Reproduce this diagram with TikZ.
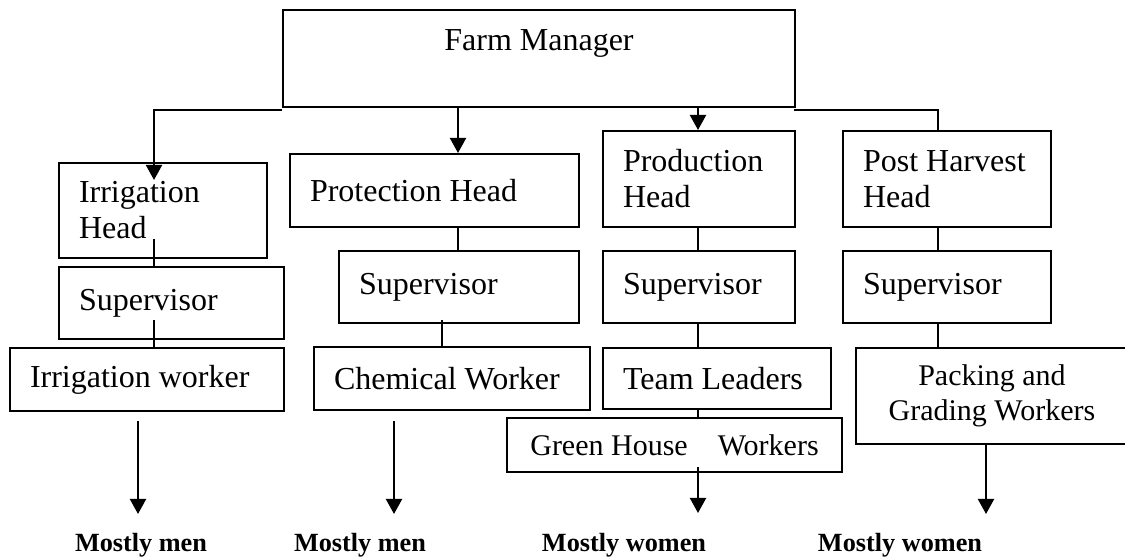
\documentclass[tikz,border=0pt]{standalone}
\usepackage{fontspec}
\setmainfont{Liberation Serif}
\usetikzlibrary{arrows.meta}
\tikzset{
    chart-box/.style = {draw, line width=0.8pt, rectangle, anchor=north west, inner xsep=8pt, inner ysep=0pt, align=left, font=\fontsize{12.8}{14.4}\selectfont, execute at begin node={\spaceskip=0.25em\relax}},
    chart-small/.style = {font=\fontsize{12}{14}\selectfont},
    chart-note/.style = {font=\fontsize{10.5}{12.6}\selectfont\bfseries, inner sep=0pt},
    chart-line/.style = {line width=0.8pt},
    chart-arrow/.style = {line width=0.8pt, -{Triangle[length=6pt, width=6.4pt]}},
}
\begin{document}
\begin{tikzpicture}[x=0.4pt, y=-0.4pt]
\clip (0,0) rectangle (1125,557);
% columns of the vertical lines
\coordinate (c1) at (154,0);
\coordinate (c2) at (458,0);
\coordinate (c2b) at (442,0);
\coordinate (c3) at (698,0);
\coordinate (c4) at (938,0);

\node [chart-box, text width=188.8pt, minimum height=38.8pt, align=center, text depth=15pt] (fm) at (282,9) {Farm Manager};

% heads
\node [chart-box, text width=67.2pt, minimum height=38pt] (irrhead) at (58,162) {Irrigation\\Head};
\node [chart-box, text width=99.6pt, minimum height=29.2pt] (prothead) at (289,153) {Protection Head};
\node [chart-box, text width=60.8pt, minimum height=38.4pt] (prodhead) at (602,130) {Production\\Head};
\node [chart-box, text width=67.2pt, minimum height=38.4pt] (posthead) at (842,130) {Post Harvest\\Head};

% supervisors
\node [chart-box, text width=74pt, minimum height=28.8pt] (sup1) at (58,266) {Supervisor};
\node [chart-box, text width=80pt, minimum height=28.8pt] (sup2) at (338,250) {Supervisor};
\node [chart-box, text width=60.8pt, minimum height=28.8pt] (sup3) at (602,250) {Supervisor};
\node [chart-box, text width=67.2pt, minimum height=28.8pt] (sup4) at (842,250) {Supervisor};

% workers
\node [chart-box, text width=93.6pt, minimum height=25.2pt] (irrworker) at (9,347) {Irrigation worker};
\node [chart-box, text width=94.4pt, minimum height=25.2pt] (chemworker) at (313,346) {Chemical Worker};
\node [chart-box, text width=75pt, minimum height=24.4pt] (teamlead) at (602,347) {Team Leaders};
\node [chart-box, chart-small, minimum width=134pt, minimum height=21.6pt] (greenhouse) at (506,417) {Green House~~~~Workers};
\node [chart-box, chart-small, text width=92.8pt, minimum height=38.4pt, align=center] (packing) at (855,347) {Packing and\\Grading Workers};

% labels
\node [chart-note] (men1) at (141,545) {Mostly men};
\node [chart-note] (men2) at (360,545) {Mostly men};
\node [chart-note] (women1) at (624,545) {Mostly women};
\node [chart-note] (women2) at (900,545) {Mostly women};

% connectors
\coordinate (fm-left) at (282,110);
\coordinate (fm-right) at (794,110);
\coordinate (irr-tip) at (154,180);
\draw [chart-arrow] (fm-left) -| (irr-tip);
\draw [chart-line] (fm-right) -| (posthead.north -| c4);
\draw [chart-arrow] (fm.south -| c2) -- (prothead.north -| c2);
\draw [chart-arrow] (fm.south -| c3) -- (prodhead.north -| c3);

\draw [chart-line] (irrhead.south -| c1) ++(0,-20) -- (sup1.north -| c1);
\draw [chart-line] (sup1.south -| c1) ++(0,-20) -- (irrworker.north -| c1);
\draw [chart-line] (prothead.south -| c2) -- (sup2.north -| c2);
\draw [chart-line] (sup2.south -| c2b) ++(0,-4) -- (chemworker.north -| c2b);
\draw [chart-line] (prodhead.south -| c3) -- (sup3.north -| c3);
\draw [chart-line] (sup3.south -| c3) -- (teamlead.north -| c3);
\draw [chart-line] (teamlead.south -| c3) -- (greenhouse.north -| c3);
\draw [chart-line] (posthead.south -| c4) -- (sup4.north -| c4);
\draw [chart-line] (sup4.south -| c4) -- (packing.north -| c4);

% arrows down to the labels
\coordinate (tip1) at (138,514);
\coordinate (tip2) at (394,514);
\coordinate (tip3) at (698,513);
\coordinate (tip4) at (986,514);
\draw [chart-arrow] (irrworker.south -| tip1) ++(0,9) -- (tip1);
\draw [chart-arrow] (chemworker.south -| tip2) ++(0,10) -- (tip2);
\draw [chart-arrow] (greenhouse.south -| tip3) ++(0,-6) -- (tip3);
\draw [chart-arrow] (packing.south -| tip4) -- (tip4);
\end{tikzpicture}
\end{document}
